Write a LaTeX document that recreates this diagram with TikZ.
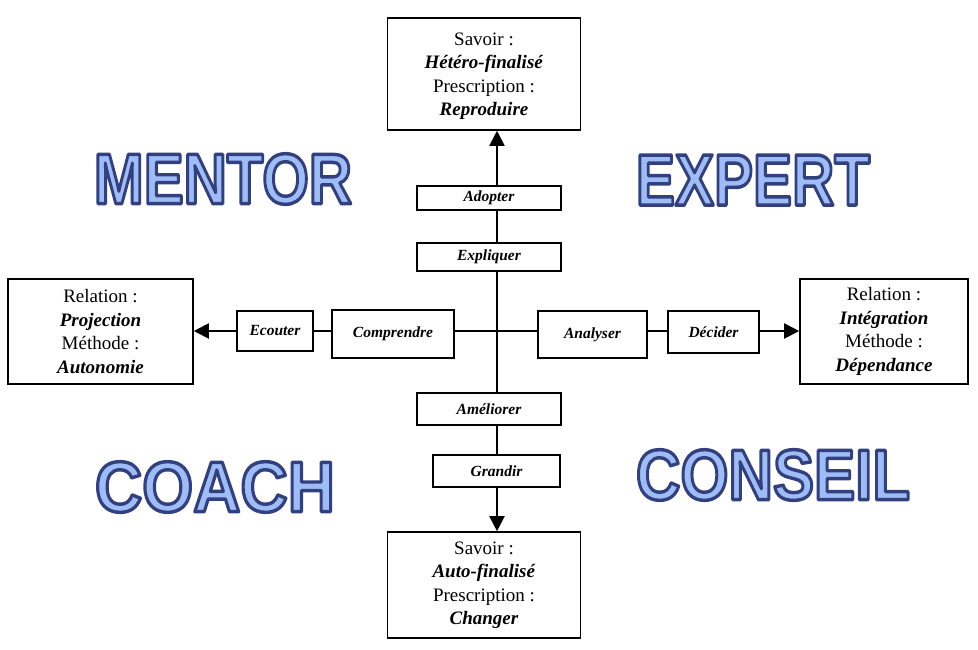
\documentclass[tikz,border=0pt]{standalone}
\usepackage{fontspec}
\setmainfont{Liberation Serif}
\newfontfamily\widesans{Liberation Sans}
\usetikzlibrary{arrows.meta}

% Outlined lettering: light blue fill with a dark blue stroke
\newcommand{\hollowword}[3]{%
  \resizebox{#2pt}{#3pt}{\widesans\bfseries
    \special{pdf:literal direct q 0.2 0.25 0.5 RG 0.62 0.74 0.97 rg 2 Tr 1 j 0.48 w}%
    #1%
    \special{pdf:literal direct Q}}}

\tikzset{
  bigbox/.style={draw, line width=1.6pt, fill=white, align=center,
    font=\fontsize{19}{23.5}\selectfont, inner sep=0pt},
  verbbox/.style={draw, line width=1.3pt, fill=white, inner sep=0pt,
    font=\fontsize{15.5}{17}\selectfont\bfseries\itshape},
  axis/.style={line width=2pt, -{Triangle[width=15pt,length=15pt]}},
}

\begin{document}
\begin{tikzpicture}[x=1pt,y=-1pt]
\useasboundingbox (0,0) rectangle (978,649);

% the four poles
\node[bigbox, minimum width=193pt, minimum height=112pt, text depth=-5pt] (top) at (484,74)
  {Savoir :\\ \textbf{\textit{Hétéro-finalisé}}\\ Prescription :\\ \textbf{\textit{Reproduire}}};
\node[bigbox, minimum width=193pt, minimum height=106pt] (bottom) at (484,585)
  {Savoir :\\ \textbf{\textit{Auto-finalisé}}\\ Prescription :\\ \textbf{\textit{Changer}}};
\node[bigbox, minimum width=185pt, minimum height=105pt] (left) at (100.5,331.5)
  {Relation :\\ \textbf{\textit{Projection}}\\ Méthode :\\ \textbf{\textit{Autonomie}}};
\node[bigbox, minimum width=168pt, minimum height=105pt] (right) at (884,331.5)
  {Relation :\\ \textbf{\textit{Intégration}}\\ Méthode :\\ \textbf{\textit{Dépendance}}};

% the two axes
\coordinate (c) at (497,331);
\draw[axis] (c) -- (c |- top.south);
\draw[axis] (c) -- (c |- bottom.north);
\draw[axis] (c) -- (c -| left.east);
\draw[axis] (c) -- (c -| right.west);

% verbs along the axes
\node[verbbox, minimum width=144pt, minimum height=24pt] (adopter) at (489,198) {Adopter};
\node[verbbox, minimum width=144pt, minimum height=28pt] (expliquer) at (489,257) {Expliquer};
\node[verbbox, minimum width=144pt, minimum height=32pt] (ameliorer) at (489,409) {Améliorer};
\node[verbbox, minimum width=127pt, minimum height=32pt] (grandir) at (496.5,471) {Grandir};
\node[verbbox, minimum width=76pt, minimum height=40pt] (ecouter) at (275,331) {Ecouter};
\node[verbbox, minimum width=122pt, minimum height=48pt] (comprendre) at (393,334) {Comprendre};
\node[verbbox, minimum width=109pt, minimum height=47pt] (analyser) at (592.5,334.5) {Analyser};
\node[verbbox, minimum width=91pt, minimum height=42pt] (decider) at (713.5,332) {Décider};

% quadrant names
\node[inner sep=0pt] (mentor) at (223,179) {\hollowword{MENTOR}{258}{50}};
\node[inner sep=0pt] (expert) at (753,180) {\hollowword{EXPERT}{234}{50}};
\node[inner sep=0pt] (coach) at (215,487) {\hollowword{COACH}{240}{50}};
\node[inner sep=0pt] (conseil) at (773,475) {\hollowword{CONSEIL}{274}{50}};
\end{tikzpicture}
\end{document}
